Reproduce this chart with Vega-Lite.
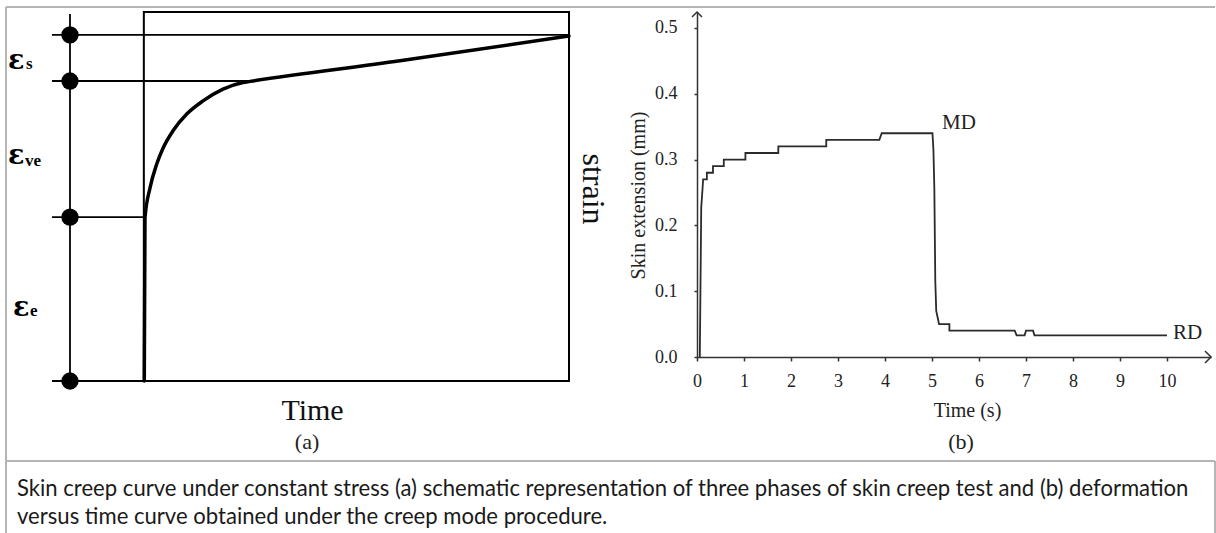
{
  "$schema": "https://vega.github.io/schema/vega-lite/v6.json",
  "padding": {"left": 5, "top": 5, "right": 0, "bottom": 0},
  "background": "white",
  "bounds": "flush",
  "spacing": 128,
  "config": {"view": {"stroke": null}, "font": "Liberation Serif"},
  "datasets": {
    "frame": [
      {"t": -3.242, "t2": 25.194, "s": 1.0136, "s2": 1.0136},
      {"t": -3.242, "t2": -3.242, "s": 1.0136, "s2": -0.4119},
      {"t": -3.242, "t2": 25.194, "s": -0.2168, "s2": -0.2168},
      {"t": 25.194, "t2": 25.194, "s": -0.2168, "s2": -0.4119}
    ],
    "box": [{"t": 0, "t2": 10, "s": 0, "s2": 1}],
    "levels": [
      {"t": -2.16, "t2": 10, "s": 0.938, "s2": 0.938},
      {"t": -2.16, "t2": 2.5, "s": 0.813, "s2": 0.813},
      {"t": -2.16, "t2": 0, "s": 0.444, "s2": 0.444},
      {"t": -2.16, "t2": 0, "s": 0, "s2": 0},
      {"t": -1.737, "t2": -1.737, "s": 0, "s2": 0.9946}
    ],
    "dots": [
      {"t": -1.737, "s": 0},
      {"t": -1.737, "s": 0.444},
      {"t": -1.737, "s": 0.813},
      {"t": -1.737, "s": 0.938}
    ],
    "creep": [
      {"t": 0.01, "s": 0.0},
      {"t": 0.027, "s": 0.442},
      {"t": 0.145, "s": 0.523},
      {"t": 0.303, "s": 0.588},
      {"t": 0.451, "s": 0.631},
      {"t": 0.686, "s": 0.678},
      {"t": 1.015, "s": 0.724},
      {"t": 1.392, "s": 0.759},
      {"t": 1.862, "s": 0.791},
      {"t": 2.332, "s": 0.809},
      {"t": 2.5, "s": 0.812},
      {"t": 6.025, "s": 0.8676},
      {"t": 10.0, "s": 0.935}
    ],
    "eps": [
      {"t": -3.195, "s": 0.8455, "label": "ε"},
      {"t": -3.195, "s": 0.588, "label": "ε"},
      {"t": -3.077, "s": 0.176, "label": "ε"}
    ],
    "epsSub": [
      {"t": -2.772, "s": 0.8455, "label": "s"},
      {"t": -2.795, "s": 0.5827, "label": "ve"},
      {"t": -2.678, "s": 0.176, "label": "e"}
    ],
    "strainLabel": [{"t": 10.565, "s": 0.5203, "label": "strain"}],
    "panelA": [{"t": 3.838, "s": -0.1843, "label": "(a)"}],
    "caption": [
      {"t": -2.983, "s": -0.3117, "label": "Skin creep curve under constant stress (a) schematic representation of three phases of skin creep test and (b) deformation"},
      {"t": -2.983, "s": -0.3875, "label": "versus time curve obtained under the creep mode procedure."}
    ],
    "extension": [
      {"i": 1, "t": 0.06, "v": 0.0},
      {"i": 2, "t": 0.09, "v": 0.227},
      {"i": 3, "t": 0.12, "v": 0.258},
      {"i": 4, "t": 0.13, "v": 0.27},
      {"i": 5, "t": 0.21, "v": 0.27},
      {"i": 6, "t": 0.21, "v": 0.28},
      {"i": 7, "t": 0.34, "v": 0.28},
      {"i": 8, "t": 0.34, "v": 0.29},
      {"i": 9, "t": 0.57, "v": 0.29},
      {"i": 10, "t": 0.57, "v": 0.3},
      {"i": 11, "t": 1.03, "v": 0.3},
      {"i": 12, "t": 1.03, "v": 0.31},
      {"i": 13, "t": 1.73, "v": 0.31},
      {"i": 14, "t": 1.73, "v": 0.32},
      {"i": 15, "t": 2.75, "v": 0.32},
      {"i": 16, "t": 2.75, "v": 0.33},
      {"i": 17, "t": 3.88, "v": 0.33},
      {"i": 18, "t": 3.93, "v": 0.34},
      {"i": 19, "t": 5.01, "v": 0.34},
      {"i": 20, "t": 5.03, "v": 0.315},
      {"i": 21, "t": 5.05, "v": 0.255},
      {"i": 22, "t": 5.07, "v": 0.115},
      {"i": 23, "t": 5.09, "v": 0.07},
      {"i": 24, "t": 5.12, "v": 0.06},
      {"i": 25, "t": 5.15, "v": 0.05},
      {"i": 26, "t": 5.37, "v": 0.05},
      {"i": 27, "t": 5.37, "v": 0.04},
      {"i": 28, "t": 6.76, "v": 0.04},
      {"i": 29, "t": 6.8, "v": 0.033},
      {"i": 30, "t": 6.97, "v": 0.033},
      {"i": 31, "t": 7.0, "v": 0.04},
      {"i": 32, "t": 7.15, "v": 0.04},
      {"i": 33, "t": 7.18, "v": 0.033},
      {"i": 34, "t": 10.0, "v": 0.033}
    ],
    "xArrow": [{"t": 10.936, "v": 0}],
    "yArrow": [{"t": 0, "v": 0.5243}],
    "curveLabels": [
      {"t": 5.213, "v": 0.346, "label": "MD"},
      {"t": 10.128, "v": 0.0274, "label": "RD"}
    ],
    "panelB": [{"t": 5.617, "v": -0.1398, "label": "(b)"}]
  },
  "hconcat": [
    {
      "width": 563,
      "height": 369,
      "encoding": {
        "x": {
          "field": "t", "type": "quantitative",
          "scale": {"domain": [-3.242, 10], "nice": false, "zero": false},
          "axis": {
            "title": "Time", "domain": false, "ticks": false, "labels": false, "grid": false,
            "titleFont": "Liberation Serif", "titleFontSize": 30, "titleFontWeight": "normal",
            "titleColor": "#111", "titleX": 306, "titleY": 38, "titleBaseline": "alphabetic", "titleAlign": "center"
          }
        },
        "y": {
          "field": "s", "type": "quantitative",
          "scale": {"domain": [0, 1], "nice": false, "zero": false},
          "axis": null
        }
      },
      "layer": [
        {
          "data": {"name": "frame"},
          "mark": {"type": "rule", "color": "#b5b5b5", "strokeWidth": 2},
          "encoding": {"x2": {"field": "t2"}, "y2": {"field": "s2"}}
        },
        {
          "data": {"name": "box"},
          "mark": {"type": "rect", "fillOpacity": 0, "stroke": "#000", "strokeWidth": 2},
          "encoding": {"x2": {"field": "t2"}, "y2": {"field": "s2"}}
        },
        {
          "data": {"name": "levels"},
          "mark": {"type": "rule", "color": "#000", "strokeWidth": 1.8},
          "encoding": {"x2": {"field": "t2"}, "y2": {"field": "s2"}}
        },
        {
          "data": {"name": "dots"},
          "mark": {"type": "point", "filled": true, "color": "#000", "size": 300, "opacity": 1}
        },
        {
          "data": {"name": "creep"},
          "mark": {"type": "line", "color": "#000", "strokeWidth": 3.5, "interpolate": "monotone", "strokeCap": "round"}
        },
        {
          "data": {"name": "eps"},
          "mark": {"type": "text", "align": "left", "baseline": "alphabetic", "font": "DejaVu Serif", "fontSize": 27, "fontWeight": "bold", "color": "#000"},
          "encoding": {"text": {"field": "label"}}
        },
        {
          "data": {"name": "epsSub"},
          "mark": {"type": "text", "align": "left", "baseline": "alphabetic", "fontSize": 17, "fontWeight": "bold", "color": "#000"},
          "encoding": {"text": {"field": "label"}}
        },
        {
          "data": {"name": "strainLabel"},
          "mark": {"type": "text", "align": "center", "baseline": "middle", "angle": 90, "fontSize": 32, "color": "#111"},
          "encoding": {"text": {"field": "label"}}
        },
        {
          "data": {"name": "panelA"},
          "mark": {"type": "text", "align": "center", "baseline": "alphabetic", "fontSize": 22, "color": "#222"},
          "encoding": {"text": {"field": "label"}}
        },
        {
          "data": {"name": "caption"},
          "mark": {"type": "text", "align": "left", "baseline": "alphabetic", "font": "Lato", "fontSize": 22.1, "color": "#1a1a1a"},
          "encoding": {"text": {"field": "label"}}
        }
      ]
    },
    {
      "width": 514,
      "height": 345,
      "encoding": {
        "x": {
          "field": "t", "type": "quantitative",
          "scale": {"domain": [0, 10.936], "nice": false, "zero": false},
          "axis": {
            "values": [0, 1, 2, 3, 4, 5, 6, 7, 8, 9, 10],
            "title": "Time (s)", "grid": false,
            "domainColor": "#333", "domainWidth": 1.5, "tickColor": "#333", "tickWidth": 1.5, "tickSize": 4,
            "labelFont": "Liberation Serif", "labelFontSize": 18, "labelColor": "#222",
            "labelBaseline": "alphabetic", "labelPadding": 25, "labelFlush": false, "labelOverlap": false,
            "titleFont": "Liberation Serif", "titleFontSize": 20, "titleFontWeight": "normal", "titleColor": "#222",
            "titleX": 270, "titleY": 59, "titleBaseline": "alphabetic", "titleAlign": "center"
          }
        },
        "y": {
          "field": "v", "type": "quantitative",
          "scale": {"domain": [0, 0.5243], "nice": false, "zero": false},
          "axis": {
            "values": [0, 0.1, 0.2, 0.3, 0.4, 0.5], "format": ".1f",
            "title": "Skin extension (mm)", "grid": false,
            "domainColor": "#333", "domainWidth": 1.5, "tickColor": "#333", "tickWidth": 1.5, "tickSize": 3,
            "labelFont": "Liberation Serif", "labelFontSize": 18, "labelColor": "#222",
            "labelPadding": 17, "labelFlush": false, "labelOverlap": false,
            "titleFont": "Liberation Serif", "titleFontSize": 20, "titleFontWeight": "normal", "titleColor": "#222",
            "titleX": -59, "titleY": 183, "titleAngle": 270, "titleBaseline": "middle", "titleAlign": "center"
          }
        }
      },
      "layer": [
        {
          "data": {"name": "extension"},
          "mark": {"type": "line", "color": "#2b2b2b", "strokeWidth": 1.8},
          "encoding": {"order": {"field": "i", "type": "quantitative"}}
        },
        {
          "data": {"name": "xArrow"},
          "mark": {"type": "point", "shape": "M-1,-1L0,0L-1,1", "size": 144, "filled": false, "stroke": "#333", "strokeWidth": 1.5, "opacity": 1}
        },
        {
          "data": {"name": "yArrow"},
          "mark": {"type": "point", "shape": "M-1,1L0,0L1,1", "size": 100, "filled": false, "stroke": "#333", "strokeWidth": 1.5, "opacity": 1}
        },
        {
          "data": {"name": "curveLabels"},
          "mark": {"type": "text", "align": "left", "baseline": "alphabetic", "fontSize": 21, "color": "#222"},
          "encoding": {"text": {"field": "label"}}
        },
        {
          "data": {"name": "panelB"},
          "mark": {"type": "text", "align": "center", "baseline": "alphabetic", "fontSize": 22, "color": "#222"},
          "encoding": {"text": {"field": "label"}}
        }
      ]
    }
  ]
}
